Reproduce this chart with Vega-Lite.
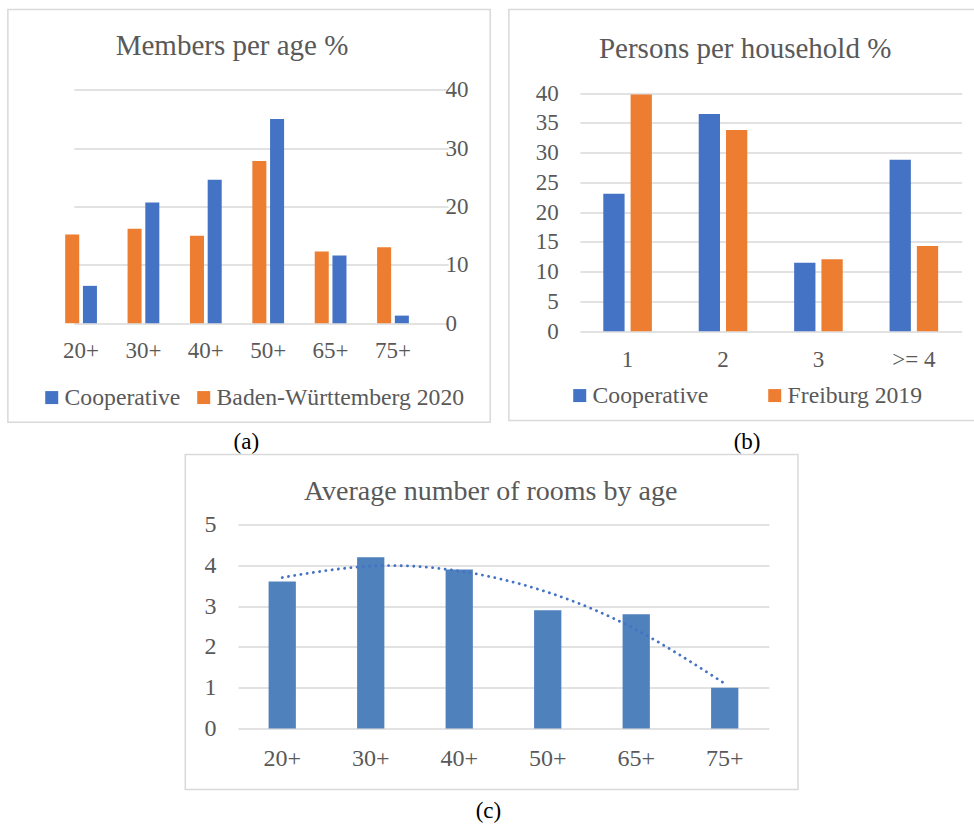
{
  "$schema": "https://vega.github.io/schema/vega-lite/v6.json",
  "background": "white",
  "padding": {"left": 6.5, "top": 8.5, "right": 0, "bottom": 0},
  "config": {
    "font": "Liberation Serif",
    "view": {"stroke": "#D9D9D9", "strokeWidth": 1.5},
    "axis": {"labelFont": "Liberation Serif", "labelColor": "#595959", "domain": false, "ticks": false, "grid": false, "titleFont": "Liberation Serif", "titleColor": "#000000", "titleFontWeight": "normal", "titleFontSize": 23, "gridColor": "#D9D9D9", "gridWidth": 1.3},
    "legend": {"labelFont": "Liberation Serif", "labelFontSize": 23.7, "labelColor": "#595959", "symbolType": "square", "symbolSize": 169, "symbolStrokeWidth": 0, "labelOffset": 1, "padding": 0, "labelLimit": 0},
    "title": {"font": "Liberation Serif", "fontSize": 29, "fontWeight": "normal", "color": "#595959", "frame": "group", "anchor": "middle", "baseline": "alphabetic"}
  },
  "datasets": {
    "members": [
      {"age": "20+", "series": "Cooperative", "value": 6.4},
      {"age": "30+", "series": "Cooperative", "value": 20.7},
      {"age": "40+", "series": "Cooperative", "value": 24.6},
      {"age": "50+", "series": "Cooperative", "value": 35.0},
      {"age": "65+", "series": "Cooperative", "value": 11.6},
      {"age": "75+", "series": "Cooperative", "value": 1.3},
      {"age": "20+", "series": "Baden-Württemberg 2020", "value": 15.2},
      {"age": "30+", "series": "Baden-Württemberg 2020", "value": 16.2},
      {"age": "40+", "series": "Baden-Württemberg 2020", "value": 15.0},
      {"age": "50+", "series": "Baden-Württemberg 2020", "value": 27.8},
      {"age": "65+", "series": "Baden-Württemberg 2020", "value": 12.3},
      {"age": "75+", "series": "Baden-Württemberg 2020", "value": 13.0}
    ],
    "households": [
      {"size": "1", "series": "Cooperative", "value": 23.1},
      {"size": "2", "series": "Cooperative", "value": 36.5},
      {"size": "3", "series": "Cooperative", "value": 11.5},
      {"size": ">= 4", "series": "Cooperative", "value": 28.8},
      {"size": "1", "series": "Freiburg 2019", "value": 39.8},
      {"size": "2", "series": "Freiburg 2019", "value": 33.8},
      {"size": "3", "series": "Freiburg 2019", "value": 12.1},
      {"size": ">= 4", "series": "Freiburg 2019", "value": 14.3}
    ],
    "rooms": [
      {"age": "20+", "rooms": 3.6, "trend": 3.7},
      {"age": "30+", "rooms": 4.2, "trend": 3.98},
      {"age": "40+", "rooms": 3.9, "trend": 3.86},
      {"age": "50+", "rooms": 2.9, "trend": 3.34},
      {"age": "65+", "rooms": 2.8, "trend": 2.42},
      {"age": "75+", "rooms": 1.0, "trend": 1.1}
    ]
  },
  "vconcat": [
    {
      "hconcat": [
        {
          "width": 482.3,
          "height": 412.7,
          "title": {"text": "Members per age %", "offset": -51, "dx": -17},
          "data": {"name": "members"},
          "mark": {"type": "bar"},
          "encoding": {
            "x": {"field": "age", "type": "nominal", "sort": ["20+", "30+", "40+", "50+", "65+", "75+"],
              "scale": {"range": [42, 416.3], "paddingInner": 0, "paddingOuter": 0},
              "axis": {"orient": "bottom", "offset": -99, "labelPadding": 16.7, "labelFontSize": 23, "labelAngle": 0,
                "title": "(a)", "titleX": 238, "titleY": 125.3, "titleBaseline": "alphabetic", "titleAlign": "center", "titleAngle": 0}},
            "xOffset": {"field": "series", "type": "nominal", "sort": ["Baden-Württemberg 2020", "Cooperative"],
              "scale": {"paddingInner": 0.209, "paddingOuter": 0.864}},
            "y": {"field": "value", "type": "quantitative",
              "scale": {"domain": [0, 40], "range": [313.7, 80.3], "nice": false, "zero": true},
              "axis": {"orient": "right", "offset": -45.3, "values": [0, 10, 20, 30, 40], "grid": true, "labelFontSize": 23, "labelPadding": 0, "labelAlign": "left", "title": null}},
            "color": {"field": "series", "type": "nominal",
              "scale": {"domain": ["Cooperative", "Baden-Württemberg 2020"], "range": ["#4472C4", "#ED7D31"]},
              "legend": {"orient": "none", "legendX": 32, "legendY": 376, "direction": "horizontal", "title": null, "columnPadding": 11}}
          }
        },
        {
          "width": 466.5,
          "height": 411,
          "title": {"text": "Persons per household %", "offset": -54.3, "dx": 3},
          "data": {"name": "households"},
          "mark": {"type": "bar"},
          "encoding": {
            "x": {"field": "size", "type": "nominal", "sort": ["1", "2", "3", ">= 4"],
              "scale": {"range": [71, 452.7], "paddingInner": 0, "paddingOuter": 0},
              "axis": {"orient": "bottom", "offset": -89.3, "labelPadding": 17, "labelFontSize": 23, "labelAngle": 0,
                "title": "(b)", "titleX": 237.7, "titleY": 117.3, "titleBaseline": "alphabetic", "titleAlign": "center", "titleAngle": 0}},
            "xOffset": {"field": "series", "type": "nominal", "sort": ["Cooperative", "Freiburg 2019"],
              "scale": {"paddingInner": 0.22, "paddingOuter": 0.858}},
            "y": {"field": "value", "type": "quantitative",
              "scale": {"domain": [0, 40], "range": [321.7, 83.7], "nice": false, "zero": true},
              "axis": {"orient": "left", "offset": -49.4, "values": [0, 5, 10, 15, 20, 25, 30, 35, 40], "grid": true, "labelFontSize": 23, "labelPadding": 0, "labelAlign": "right", "title": null}},
            "color": {"field": "series", "type": "nominal",
              "scale": {"domain": ["Cooperative", "Freiburg 2019"], "range": ["#4472C4", "#ED7D31"]},
              "legend": {"orient": "none", "legendX": 59, "legendY": 374, "direction": "horizontal", "title": null, "columnPadding": 54}}
          }
        }
      ],
      "spacing": 18,
      "bounds": "flush",
      "resolve": {
        "scale": {"x": "independent", "y": "independent", "xOffset": "independent", "color": "independent"},
        "axis": {"x": "independent", "y": "independent"},
        "legend": {"color": "independent"}
      }
    },
    {
      "width": 612.7,
      "height": 335,
      "title": {"text": "Average number of rooms by age", "offset": -51.7, "dx": -1, "fontSize": 28},
      "data": {"name": "rooms"},
      "encoding": {
        "x": {"field": "age", "type": "nominal", "sort": ["20+", "30+", "40+", "50+", "65+", "75+"],
          "scale": {"range": [52.7, 583.7], "paddingInner": 0, "paddingOuter": 0},
          "axis": {"orient": "bottom", "offset": -61, "labelPadding": 18, "labelFontSize": 24, "labelAngle": 0,
            "title": "(c)", "titleX": 302.7, "titleY": 88.7, "titleBaseline": "alphabetic", "titleAlign": "center", "titleAngle": 0}},
        "y": {"field": "rooms", "type": "quantitative",
          "scale": {"domain": [0, 5], "range": [274, 70], "nice": false, "zero": true},
          "axis": {"orient": "left", "offset": -30.7, "values": [0, 1, 2, 3, 4, 5], "grid": true, "labelFontSize": 24, "labelPadding": 0, "labelAlign": "right", "title": null}}
      },
      "layer": [
        {
          "mark": {"type": "bar", "width": {"band": 0.308}, "color": "#4F81BD"}
        },
        {
          "mark": {"type": "line", "interpolate": "natural", "color": "#4472C4", "strokeWidth": 2.8, "strokeCap": "round", "strokeDash": [0.1, 6.2]},
          "encoding": {
            "y": {"field": "trend", "type": "quantitative",
              "scale": {"domain": [0, 5], "range": [274, 70], "nice": false, "zero": true},
              "axis": {"orient": "left", "offset": -30.7, "values": [0, 1, 2, 3, 4, 5], "grid": true, "labelFontSize": 24, "labelPadding": 0, "labelAlign": "right", "title": null}}
          }
        }
      ]
    }
  ],
  "spacing": -1,
  "center": true,
  "resolve": {
    "scale": {"x": "independent", "y": "independent", "xOffset": "independent", "color": "independent"},
    "axis": {"x": "independent", "y": "independent"},
    "legend": {"color": "independent"}
  }
}
